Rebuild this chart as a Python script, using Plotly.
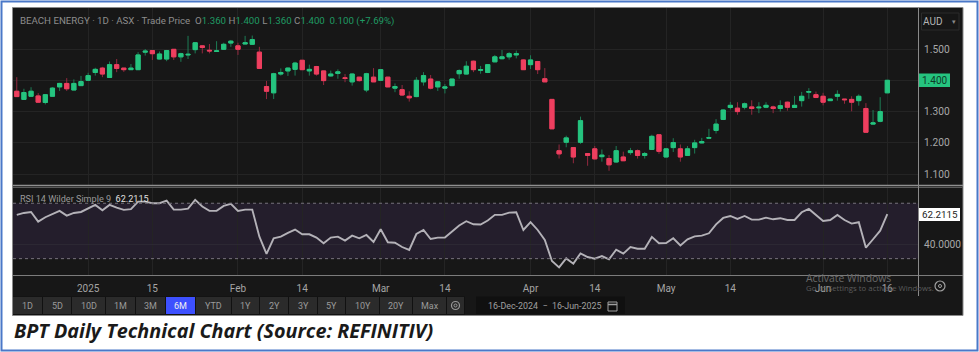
import plotly.graph_objects as go

W, H = 979, 352

# OHLC, one entry per trading session
opens = [1.365,1.339,1.349,1.350,1.329,1.349,1.379,1.390,1.369,1.383,1.400,1.425,1.439,1.409,1.450,1.439,1.434,1.434,1.490,1.495,
1.468,1.468,1.499,1.475,1.481,1.498,1.510,1.496,1.492,1.499,1.519,1.510,1.516,1.515,1.490,1.380,1.360,1.420,1.430,1.435,
1.464,1.430,1.444,1.430,1.414,1.422,1.408,1.395,1.410,1.369,1.410,1.400,1.410,1.375,1.370,1.349,1.348,1.395,1.404,1.379,
1.375,1.383,1.421,1.420,1.461,1.432,1.425,1.459,1.469,1.475,1.481,1.465,1.450,1.460,1.405,1.339,1.175,1.202,1.185,1.202,
1.166,1.181,1.156,1.150,1.139,1.155,1.169,1.175,1.160,1.179,1.226,1.155,1.185,1.181,1.160,1.185,1.200,1.215,1.240,1.275,
1.313,1.311,1.314,1.315,1.312,1.314,1.315,1.310,1.330,1.313,1.335,1.362,1.354,1.349,1.335,1.349,1.340,1.339,1.335,1.310,
1.260,1.269,1.360]
highs = [1.410,1.373,1.378,1.359,1.354,1.378,1.392,1.407,1.403,1.414,1.424,1.440,1.443,1.460,1.468,1.439,1.452,1.490,1.500,1.497,
1.492,1.497,1.500,1.488,1.542,1.521,1.512,1.516,1.525,1.520,1.529,1.520,1.542,1.543,1.507,1.398,1.424,1.438,1.441,1.459,
1.465,1.450,1.446,1.431,1.431,1.435,1.420,1.422,1.410,1.424,1.439,1.435,1.411,1.390,1.385,1.365,1.410,1.426,1.417,1.397,
1.388,1.405,1.435,1.461,1.463,1.446,1.452,1.481,1.497,1.490,1.495,1.467,1.480,1.462,1.439,1.340,1.195,1.223,1.187,1.284,
1.166,1.190,1.179,1.161,1.190,1.172,1.184,1.179,1.171,1.226,1.226,1.181,1.215,1.195,1.190,1.210,1.216,1.245,1.276,1.307,
1.331,1.330,1.329,1.336,1.330,1.330,1.319,1.336,1.332,1.350,1.363,1.375,1.364,1.360,1.341,1.368,1.340,1.349,1.355,1.327,
1.305,1.346,1.400]
lows = [1.348,1.337,1.348,1.330,1.323,1.348,1.366,1.366,1.369,1.382,1.398,1.415,1.410,1.409,1.426,1.427,1.433,1.434,1.479,1.465,
1.467,1.461,1.465,1.459,1.468,1.486,1.486,1.486,1.491,1.498,1.507,1.481,1.515,1.514,1.438,1.340,1.340,1.415,1.414,1.415,
1.433,1.415,1.415,1.385,1.412,1.405,1.394,1.383,1.396,1.362,1.395,1.398,1.378,1.362,1.350,1.332,1.346,1.383,1.371,1.366,
1.358,1.381,1.405,1.419,1.426,1.421,1.423,1.458,1.467,1.466,1.470,1.433,1.436,1.420,1.395,1.245,1.150,1.186,1.135,1.197,
1.127,1.147,1.140,1.111,1.137,1.142,1.162,1.150,1.150,1.178,1.165,1.154,1.171,1.140,1.159,1.166,1.199,1.214,1.230,1.273,
1.307,1.290,1.307,1.290,1.295,1.311,1.295,1.300,1.303,1.312,1.316,1.341,1.343,1.320,1.334,1.335,1.325,1.301,1.319,1.233,
1.258,1.266,1.360]
closes = [1.348,1.361,1.365,1.330,1.354,1.375,1.390,1.373,1.390,1.396,1.415,1.435,1.420,1.450,1.438,1.434,1.439,1.481,1.493,1.485,
1.484,1.495,1.475,1.485,1.483,1.520,1.505,1.494,1.494,1.515,1.525,1.499,1.520,1.530,1.438,1.365,1.421,1.425,1.439,1.455,
1.434,1.435,1.420,1.399,1.420,1.427,1.406,1.420,1.399,1.421,1.395,1.434,1.379,1.380,1.353,1.344,1.400,1.415,1.375,1.395,
1.379,1.404,1.431,1.445,1.434,1.434,1.450,1.475,1.475,1.485,1.485,1.434,1.465,1.434,1.395,1.245,1.165,1.216,1.155,1.271,
1.160,1.149,1.161,1.130,1.175,1.143,1.175,1.160,1.166,1.221,1.173,1.181,1.201,1.155,1.181,1.200,1.204,1.217,1.260,1.305,
1.320,1.300,1.325,1.310,1.314,1.320,1.310,1.319,1.314,1.320,1.349,1.364,1.345,1.330,1.340,1.355,1.338,1.330,1.349,1.234,
1.264,1.300,1.400]
rsi = [61.6,63.0,63.7,56.7,59.9,62.5,64.5,61.1,63.0,63.7,66.4,68.8,64.9,68.8,66.9,65.2,65.7,71.2,71.2,70.0,
70.0,71.9,65.4,65.4,66.1,72.4,67.6,64.5,64.5,68.1,69.5,64.5,65.4,65.4,45.9,33.4,44.7,45.9,48.6,51.0,
47.6,47.6,45.2,41.1,45.2,45.9,43.0,46.6,44.7,47.1,42.0,51.2,41.8,41.5,38.4,36.3,47.8,50.7,44.2,45.2,
45.2,49.8,53.9,57.0,54.8,54.6,57.5,61.6,61.6,63.2,63.5,50.7,56.3,50.7,43.5,28.3,23.7,30.2,26.4,33.8,
31.2,30.0,31.9,29.5,36.5,33.6,38.4,37.2,37.2,45.7,41.1,41.3,44.7,39.6,44.0,46.1,46.6,48.3,54.8,59.4,
60.8,58.7,60.8,58.2,58.2,59.6,58.4,59.2,57.9,57.9,63.5,65.9,61.6,57.2,57.9,61.6,57.9,55.3,56.3,37.9,
44.0,50.2,62.2115]
sessions = list(range(len(closes)))

time_tick_sessions = [10,19,31,40,51,60,72,81,91,100,113,122]
time_tick_labels = ["2025","15","Feb","14","Mar","14","Apr","14","May","14","Jun","16"]
price_ticks = [1.1,1.2,1.3,1.4,1.5]
price_tick_labels = ["1.100","1.200","1.300","","1.500"]
rsi_ticks = [40]
range_buttons = ["1D","5D","10D","1M","3M","6M","YTD","1Y","2Y","3Y","5Y","10Y","20Y","Max"]
button_edges = [(13,42),(43,71),(72,105),(106,135),(136,165),(166,195),(196,231),(232,259),
                (260,288),(289,317),(318,345),(346,379),(380,412),(413,446)]

BG = "#171717"
GRID = "#242424"
UP, DOWN = "#25c47f", "#ee3f5f"
UP_W, DOWN_W = "#1d7d55", "#93293f"
TXT = "#a8a8a8"
FONT = "Roboto, sans-serif"

def fx(x): return x / W
def fy(y): return 1 - y / H

fig = go.Figure()
# wicks
fig.add_trace(go.Candlestick(x=sessions, open=opens, high=highs, low=lows, close=closes,
    increasing=dict(line=dict(color=UP_W, width=1), fillcolor=UP_W),
    decreasing=dict(line=dict(color=DOWN_W, width=1), fillcolor=DOWN_W),
    whiskerwidth=0, xaxis="x", yaxis="y", showlegend=False))
# bodies
fig.add_trace(go.Candlestick(x=sessions, open=opens, close=closes,
    high=[max(o, c) for o, c in zip(opens, closes)],
    low=[min(o, c) for o, c in zip(opens, closes)],
    increasing=dict(line=dict(color=UP, width=1), fillcolor=UP),
    decreasing=dict(line=dict(color=DOWN, width=1), fillcolor=DOWN),
    whiskerwidth=0, xaxis="x", yaxis="y", showlegend=False))
fig.add_trace(go.Scatter(x=sessions, y=rsi, mode="lines", xaxis="x2", yaxis="y2",
    line=dict(color="#b4b2b8", width=1.9), showlegend=False))

shapes = []
def rect(x0, y0, x1, y1, fill, line=None, lw=0, layer="below"):
    shapes.append(dict(type="rect", xref="paper", yref="paper", x0=fx(x0), x1=fx(x1), y0=fy(y0), y1=fy(y1),
                       fillcolor=fill, line=dict(color=line or fill, width=lw), layer=layer))
def hline(x0, x1, y, color, lw=1, layer="above"):
    shapes.append(dict(type="line", xref="paper", yref="paper", x0=fx(x0), x1=fx(x1), y0=fy(y), y1=fy(y),
                       line=dict(color=color, width=lw), layer=layer))
def vline(x, y0, y1, color, lw=1, layer="above"):
    shapes.append(dict(type="line", xref="paper", yref="paper", x0=fx(x), x1=fx(x), y0=fy(y0), y1=fy(y1),
                       line=dict(color=color, width=lw), layer=layer))

rect(1.5, 1.5, 977.5, 350.5, "#ffffff", "#4a78c8", 2)
rect(12.5, 7.5, 963, 315.5, BG, "#8a8a8a", 1)
rect(13, 296.5, 465, 315, "#111111")
# RSI band between 30 and 70
shapes.append(dict(type="rect", xref="paper", yref="y2", x0=fx(13), x1=fx(918), y0=30, y1=70,
                   fillcolor="#241e2c", line=dict(width=0), layer="below"))
for lvl in (30, 70):
    shapes.append(dict(type="line", xref="paper", yref="y2", x0=fx(13), x1=fx(918), y0=lvl, y1=lvl,
                       line=dict(color="#77737c", width=1, dash="dot"), layer="above"))
hline(13, 963, 185.5, "#8f8f8f", 1.5)
hline(13, 963, 187.5, "#5a5a5a", 1)
hline(13, 963, 275.5, "#7c7c7c", 1)
vline(918.5, 8, 296, "#8a8a8a", 1)

ann = []
def text(x, y, s, size=9.5, color=TXT, anchor="center", font=FONT, bg=None):
    a = dict(xref="paper", yref="paper", x=fx(x), y=fy(y), text=s, showarrow=False,
             xanchor=anchor, yanchor="middle", font=dict(size=size, color=color, family=font))
    if bg: a.update(bgcolor=bg, borderpad=2)
    ann.append(a)

G = "#1f9a63"
header = ("BEACH ENERGY · 1D · ASX · Trade Price  "
          f"O<span style='color:{G}'>1.360</span> H<span style='color:{G}'>1.400</span> "
          f"L<span style='color:{G}'>1.360</span> C<span style='color:{G}'>1.400</span>  "
          f"<span style='color:{G}'>0.100 (+7.69%)</span>")
text(18, 21, header, size=9.7, color="#8d8d8d", anchor="left")
text(18, 199, "RSI 14 Wilder Simple 9  <span style='color:#e0e0e0'>62.2115</span>", size=9.1, color="#9a9a9a", anchor="left")

# last value tags
rect(919, 73.5, 950, 87, UP, layer="above")
text(934.5, 80.5, f"{closes[-1]:.3f}", size=10, color="#0f3b28")
rect(919, 208, 960, 221, "#ffffff", layer="above")
text(939.5, 214.5, f"{rsi[-1]:.4f}", size=9.8, color="#222222")

# currency selector
rect(921.5, 13, 959, 30, "#161616", "#2b2b2b", 1)
text(933, 21.5, "AUD", size=10, color="#b5b5b5")
text(954, 22, "▾", size=7, color="#888888")

# range buttons
for lab, (a, b) in zip(range_buttons, button_edges):
    active = lab == "6M"
    rect(a, 297, b, 314, "#3d50ff" if active else "#2b2b2b", layer="below")
    text((a + b) / 2, 306, lab, size=9, color="#f0f0f0" if active else "#9a9a9a")
# settings button
rect(447, 297, 464, 314, "#2b2b2b")
shapes.append(dict(type="circle", xref="paper", yref="paper", x0=fx(451.5), x1=fx(459.5), y0=fy(301.5), y1=fy(309.5),
                   line=dict(color="#9a9a9a", width=1.2), layer="above"))
shapes.append(dict(type="circle", xref="paper", yref="paper", x0=fx(454), x1=fx(457), y0=fy(304), y1=fy(307),
                   line=dict(color="#9a9a9a", width=1), layer="above"))
# date range box
rect(476, 296.5, 625, 314, "#101010")
text(544, 306, "16-Dec-2024  −  16-Jun-2025", size=8.9, color="#a0a0a0")
rect(608, 302, 617, 311, "rgba(0,0,0,0)", "#a0a0a0", 1, layer="above")
hline(608, 617, 304.5, "#a0a0a0", 1.5)
# right bottom settings icon
shapes.append(dict(type="circle", xref="paper", yref="paper", x0=fx(935), x1=fx(945), y0=fy(281), y1=fy(291),
                   line=dict(color="#a0a0a0", width=1.2), layer="above"))
shapes.append(dict(type="circle", xref="paper", yref="paper", x0=fx(938.5), x1=fx(941.5), y0=fy(284.5), y1=fy(287.5),
                   line=dict(color="#a0a0a0", width=1), layer="above"))

# watermark
text(804, 277.5, "Activate Windows", size=10.4, color="#6a6a6a", anchor="left", font="'Open Sans', sans-serif")
text(804, 288, "Go to Settings to activate Windows.", size=7.8, color="#5c5c5c", anchor="left", font="'Open Sans', sans-serif")

# caption
text(12, 330, "<b><i>BPT Daily Technical Chart (Source: REFINITIV)</i></b>", size=19.8, color="#1a1a1a", anchor="left",
     font="'Open Sans', sans-serif")

x_range = [-0.53, 126.3]
common_x = dict(range=x_range, showgrid=True, gridcolor=GRID, gridwidth=1, zeroline=False, showline=False,
                tickmode="array", tickvals=time_tick_sessions)
fig.update_layout(
    width=W, height=H, autosize=False, margin=dict(l=0, r=0, t=0, b=0),
    paper_bgcolor="#ffffff", plot_bgcolor="rgba(0,0,0,0)", showlegend=False, hovermode=False,
    boxmode="overlay", boxgap=0.16,
    xaxis=dict(domain=[fx(13), fx(918)], anchor="y", showticklabels=False, rangeslider=dict(visible=False), **common_x),
    xaxis2=dict(domain=[fx(13), fx(918)], anchor="y2", matches="x", ticktext=time_tick_labels, ticks="outside",
                ticklen=4, tickcolor="rgba(0,0,0,0)",
                tickfont=dict(size=10, color="#a5a5a5", family=FONT), **common_x),
    yaxis=dict(domain=[fy(185), fy(8)], range=[1.0655, 1.631], side="right", anchor="x", tickmode="array",
               tickvals=price_ticks, ticktext=price_tick_labels, showgrid=True, gridcolor=GRID, zeroline=False,
               ticks="outside", ticklen=3, tickcolor="rgba(0,0,0,0)",
               tickfont=dict(size=10.2, color=TXT, family=FONT)),
    yaxis2=dict(domain=[fy(275), fy(188)], range=[18.2, 81.0], side="right", anchor="x2", tickmode="array",
                tickvals=rsi_ticks, tickformat=".4f", showgrid=True, gridcolor="#2c2833", zeroline=False,
                ticks="outside", ticklen=3, tickcolor="rgba(0,0,0,0)",
                tickfont=dict(size=10.2, color=TXT, family=FONT)),
    shapes=shapes, annotations=ann,
)
fig.write_html("out.html", config=dict(displayModeBar=False),
               post_script="document.body.style.margin='0';document.body.style.overflow='hidden';")
